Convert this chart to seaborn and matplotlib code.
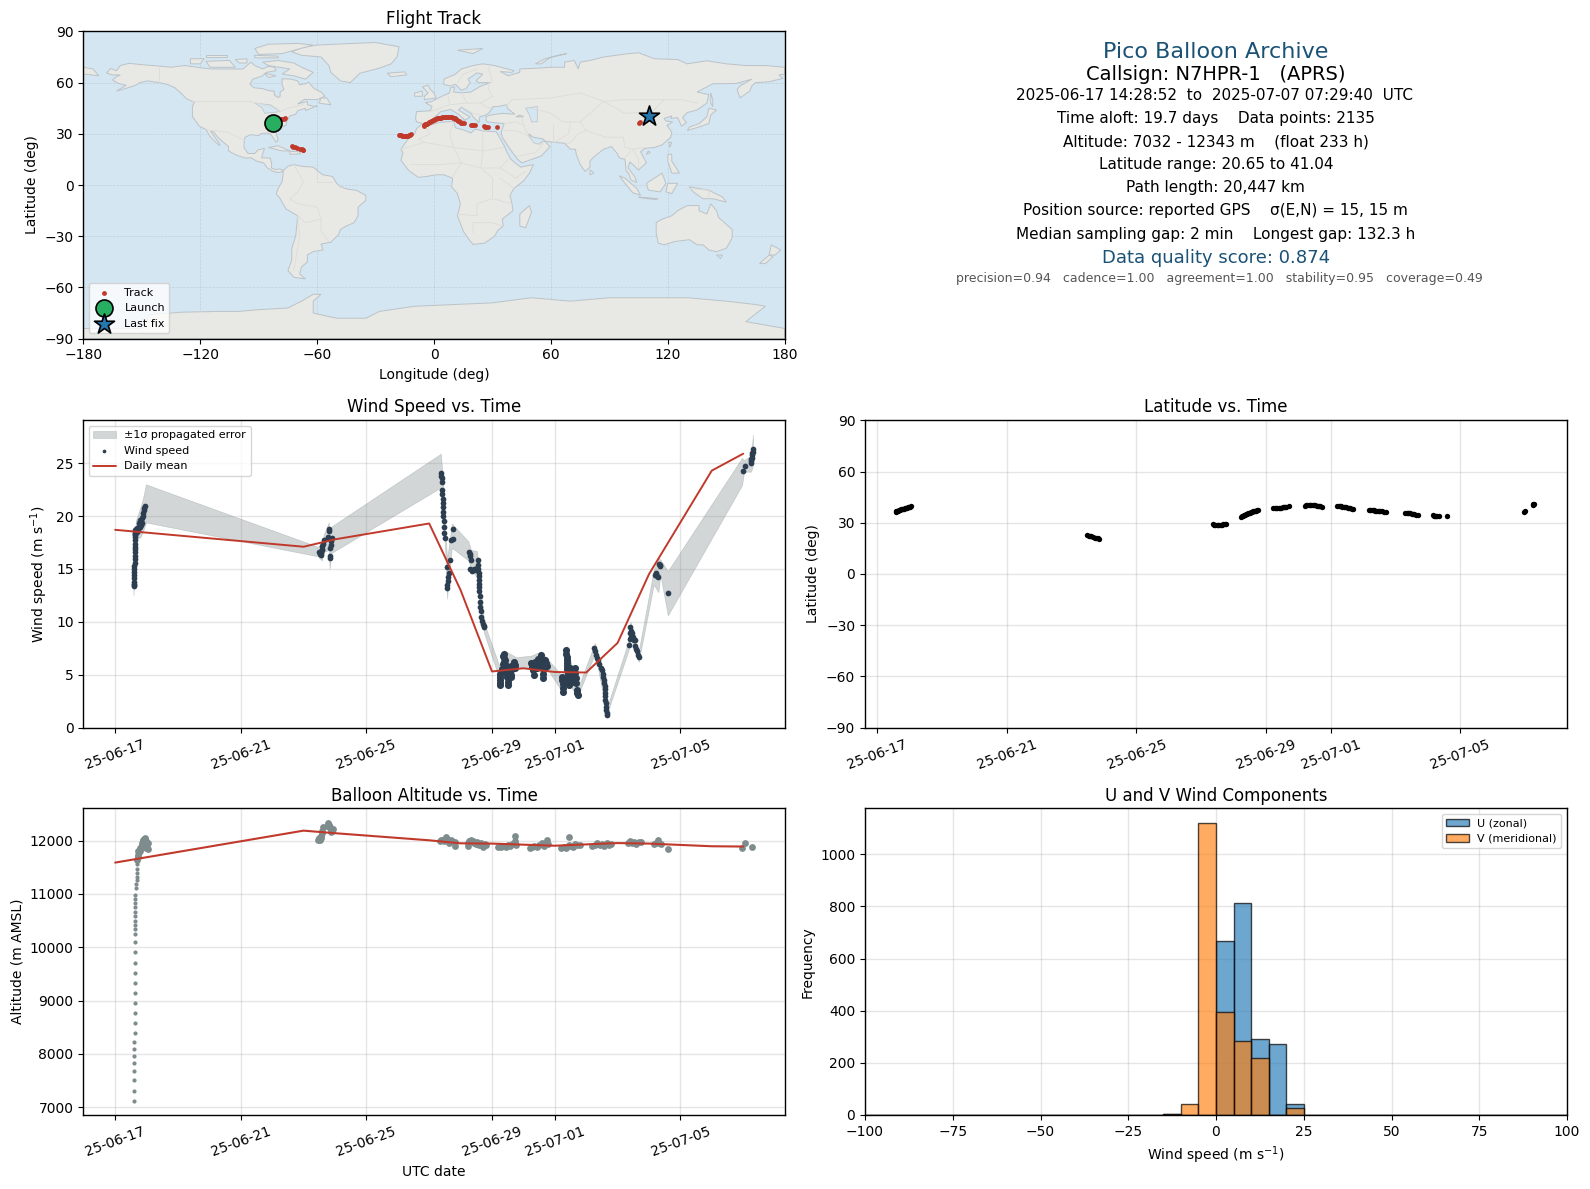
import matplotlib
matplotlib.use('Agg')
import matplotlib.pyplot as plt
import matplotlib.dates as mdates
from matplotlib.colors import to_rgba
import pandas as pd
import seaborn as sns

# days since 2025-06-17 00:00 UTC
wind_t_a = [0.59, 0.59, 0.60, 0.60, 0.60, 0.60, 0.61, 0.61, 0.61, 0.62, 0.62, 0.62, 0.62, 0.63, 0.63, 0.63, 0.63, 0.63, 0.63, 0.64, 0.64, 0.64,
            0.64, 0.65, 0.65, 0.67, 0.69, 0.71, 0.73, 0.75, 0.77, 0.79, 0.80, 0.82, 0.83, 0.85, 0.85, 0.87, 0.89, 0.91, 0.93, 0.95]
wind_v_a = [13.4, 13.6, 13.5, 13.8, 14.1, 14.4, 14.7, 15.0, 15.3, 15.6, 15.9, 16.2, 16.6, 16.9, 17.1, 17.4, 17.7, 18.0, 18.2, 18.4, 18.6, 18.3,
            18.7, 18.5, 18.8, 18.7, 18.5, 18.9, 18.7, 19.0, 19.3, 19.0, 19.6, 19.5, 19.2, 19.8, 19.3, 20.0, 20.3, 20.6, 20.8, 21.0]
wind_t_b = [6.50, 6.52, 6.54, 6.56, 6.58, 6.60, 6.60, 6.62, 6.64, 6.80, 6.78, 6.90, 6.88, 6.85, 6.84, 6.83, 6.82, 6.86]
wind_v_b = [16.6, 16.4, 16.3, 16.5, 16.9, 16.8, 17.2, 17.4, 17.7, 18.8, 18.05, 17.9, 17.6, 17.0, 16.0, 16.2, 18.6, 17.3]
wind_t_c = [10.38, 10.39, 10.40, 10.41, 10.42, 10.42, 10.43, 10.43, 10.44, 10.44, 10.45, 10.46, 10.47, 10.48, 10.50, 10.57, 10.62, 10.60, 10.59,
            10.58, 10.57, 10.67, 10.70, 10.75, 10.75, 11.27, 11.29, 11.30, 11.33, 11.30, 11.36, 11.42, 11.48, 11.52, 11.56, 11.55, 11.57, 11.58,
            11.59, 11.59, 11.60, 11.60, 11.60, 11.61, 11.62, 11.63, 11.65, 11.66, 11.68, 11.70, 11.73, 11.75]
wind_v_c = [24.05, 23.8, 23.6, 23.2, 22.5, 22.1, 21.6, 21.2, 20.9, 20.4, 20.0, 19.5, 19.0, 18.4, 17.9, 15.2, 14.6, 14.2, 13.9, 13.5, 13.2, 15.8, 17.7,
            17.8, 18.75, 16.6, 16.4, 16.2, 15.8, 15.0, 14.8, 15.0, 14.9, 15.1, 15.8, 15.4, 15.0, 14.6, 14.3, 14.0, 13.6, 13.3, 12.9, 12.4, 11.9, 11.4,
            11.0, 10.5, 10.1, 9.8, 9.6, 9.5]
wind_t_d = [12.25, 12.25, 12.26, 12.26, 12.27, 12.32, 12.34, 12.36, 12.37, 12.38, 12.38, 12.39, 12.39, 12.40, 12.40, 12.41, 12.44, 12.47, 12.50, 12.50, 12.51, 12.51, 12.52,
            12.52, 12.56, 12.60, 12.60, 12.61, 12.62, 12.66, 12.71, 12.72, 12.73, 13.25, 13.27, 13.30, 13.33, 13.35, 13.38, 13.42, 13.46, 13.47, 13.48, 13.52, 13.55, 13.56,
            13.56, 13.57, 13.58, 13.62, 13.62, 13.63, 13.63, 13.66, 13.70, 13.72, 13.74]
wind_v_d = [5.1, 4.8, 4.5, 4.2, 4.0, 5.5, 6.0, 6.8, 7.0, 6.6, 6.2, 5.9, 5.6, 6.4, 5.4, 6.0, 5.2, 4.8, 5.7, 5.4, 5.0, 4.7, 4.3, 4.0, 5.2, 5.8, 5.4, 5.0, 4.8, 5.6, 6.2, 5.9, 5.6,
            6.1, 5.7, 5.4, 5.0, 5.9, 6.2, 5.6, 6.5, 6.1, 5.7, 6.0, 6.9, 6.5, 6.1, 5.7, 5.6, 6.1, 5.6, 5.1, 4.7, 5.5, 6.4, 6.1, 5.8]
wind_t_e = [14.23, 14.24, 14.25, 14.26, 14.27, 14.33, 14.36, 14.37, 14.38, 14.39, 14.39, 14.40, 14.40, 14.41, 14.41, 14.42, 14.43, 14.44, 14.47, 14.50, 14.52, 14.53,
            14.54, 14.59, 14.63, 14.65, 14.66, 14.68, 14.71, 14.72, 14.73]
wind_v_e = [4.8, 4.5, 4.1, 3.7, 3.4, 4.6, 7.3, 7.0, 6.7, 6.4, 6.1, 5.8, 5.5, 5.2, 4.9, 4.6, 4.3, 4.0, 5.0, 5.6, 5.2, 4.8, 4.3, 5.3, 5.6, 5.2, 4.7, 4.2, 3.55, 3.3, 3.1]
wind_t_f = [15.26, 15.29, 15.32, 15.36, 15.39, 15.42, 15.46, 15.49, 15.52, 15.55, 15.57, 15.58, 15.60, 15.60, 15.61, 15.61, 15.61, 15.62, 15.63, 15.64, 15.65, 15.67]
wind_v_f = [7.5, 7.2, 6.9, 6.6, 6.4, 6.0, 5.6, 5.4, 5.1, 4.8, 4.5, 4.2, 3.9, 3.6, 3.3, 3.0, 2.6, 2.3, 1.9, 1.7, 1.4, 1.2]
wind_t_g = [16.35, 16.38, 16.40, 16.41, 16.42, 16.44, 16.46, 16.48, 16.50, 16.53, 16.56, 16.57, 16.59, 16.61, 16.64, 16.67, 17.20, 17.22, 17.25, 17.28,
            17.31, 17.34, 17.36, 17.60]
wind_v_g = [7.8, 8.4, 8.9, 9.5, 9.1, 8.6, 8.9, 8.4, 8.6, 8.3, 8.3, 7.7, 7.4, 7.2, 6.9, 6.7, 14.4, 14.6, 14.3, 14.2, 15.5, 15.4, 15.3, 12.7]
wind_t_h = [19.98, 20.05, 20.25, 20.25, 20.26, 20.27, 20.28, 20.29, 20.30, 20.31]
wind_v_h = [24.3, 24.7, 25.0, 25.2, 25.4, 25.5, 25.8, 26.0, 26.1, 26.35]

band_t = [0.58, 0.62, 0.66, 0.80, 0.88, 0.98, 6.45, 6.58, 6.65, 6.80, 6.83, 6.88, 10.37, 10.45, 10.50, 10.57, 10.62, 10.72, 11.25, 11.33, 11.52,
          11.60, 11.75, 12.26, 12.38, 12.77, 13.25, 13.56, 13.77, 14.25, 14.39, 14.72, 15.28, 15.60, 15.63, 16.35, 16.41, 16.67, 17.15, 17.30,
          17.36, 17.60, 19.96, 20.03, 20.25, 20.31]
band_lo = [12.5, 14.5, 17.8, 18.0, 18.5, 19.4, 16.2, 15.8, 16.6, 16.8, 15.0, 16.5, 22.7, 18.5, 17.5, 12.2, 14.0, 17.0, 15.8, 15.0, 14.2, 11.5, 8.9,
           4.4, 5.4, 5.7, 5.6, 5.5, 5.5, 3.3, 4.4, 2.9, 7.0, 2.2, 1.0, 7.3, 8.5, 6.2, 13.5, 12.8, 14.5, 10.6, 22.9, 24.2, 24.2, 24.8]
band_hi = [14.5, 17.0, 19.6, 20.8, 21.6, 23.0, 17.1, 17.3, 18.3, 19.4, 18.0, 19.0, 25.9, 23.0, 19.0, 16.0, 17.0, 19.3, 17.6, 16.8, 16.7, 14.5, 9.9,
           5.6, 7.3, 6.65, 6.8, 7.2, 6.5, 4.8, 7.7, 3.6, 8.0, 4.3, 1.6, 8.2, 10.0, 7.2, 14.9, 16.0, 15.9, 14.8, 25.5, 25.3, 25.7, 27.7]

mean_t = [0, 6, 7, 10, 11, 12, 13, 14, 15, 16, 17, 19, 20]
wind_mean = [18.7, 17.1, 17.8, 19.3, 13.0, 5.3, 5.6, 5.25, 5.2, 8.0, 14.5, 24.3, 25.9]
alt_mean = [11589, 12188, 12140, 12007, 11950, 11945, 11925, 11905, 11930, 11955, 11945, 11895, 11890]

alt_t_a = [0.60, 0.60, 0.60, 0.60, 0.60, 0.60, 0.60, 0.60, 0.63, 0.63, 0.63, 0.63, 0.63, 0.63, 0.63, 0.63, 0.63, 0.63, 0.63, 0.63, 0.63, 0.63,
           0.63, 0.63, 0.63, 0.63, 0.63, 0.63, 0.65, 0.66, 0.68, 0.68, 0.68, 0.68, 0.68]
alt_a = [7113, 7300, 7506, 7675, 7831, 7956, 8093, 8224, 8393, 8580, 8767, 8954, 9142, 9329, 9516, 9704, 9910, 10097, 10247, 10341, 10422, 10497,
         10579, 10660, 10747, 10828, 10903, 10984, 11109, 11184, 11253, 11315, 11390, 11471, 11559]
alt_t_a2 = [0.70, 0.72, 0.74, 0.76, 0.78, 0.80, 0.82, 0.84, 0.86, 0.88, 0.90, 0.92, 0.94, 0.96, 0.98, 1.00, 1.02, 1.04, 0.74, 0.80, 0.86, 0.92, 0.98, 1.03]
alt_a2 = [11640, 11690, 11730, 11780, 11810, 11840, 11880, 11910, 11950, 11985, 12010, 12040, 12050, 12030, 12000, 11960, 11910, 11850, 11810, 11870, 11900, 11920, 11860, 11960]
alt_t_b = [6.46, 6.49, 6.53, 6.55, 6.57, 6.58, 6.60, 6.62, 6.76, 6.78, 6.80, 6.83, 6.85, 6.88, 6.90, 6.94, 6.86]
alt_b = [12013, 12050, 12013, 12050, 12090, 12137, 12190, 12250, 12270, 12325, 12290, 12262, 12230, 12212, 12190, 12212, 12165]
alt_t_c = [10.33, 10.38, 10.43, 10.48, 10.53, 10.58, 10.62, 10.68, 10.73, 10.81, 10.81, 11.23, 11.23, 11.28, 11.33, 11.38, 11.43, 11.48, 11.53,
           11.60, 11.66, 11.72, 11.78, 11.82, 12.20, 12.28, 12.36, 12.44, 12.50, 12.58, 12.65, 12.72, 12.78, 12.73, 12.74,
           13.20, 13.27, 13.35, 13.42, 13.50, 13.58, 13.65, 13.72, 13.78, 13.75, 14.20, 14.28, 14.36, 14.44, 14.50, 14.58, 14.65, 14.72, 14.80, 14.45]
alt_c = [12000, 12010, 12020, 11990, 12070, 12040, 11960, 12010, 12000, 11970, 11900, 11900, 11960, 12000, 12010, 11990, 11960, 11930, 11970,
         11910, 11950, 11890, 11940, 11920, 11880, 11890, 11900, 11880, 11920, 11900, 11930, 11950, 11920, 12000, 12080,
         11860, 11880, 11900, 11890, 11920, 11950, 11900, 11960, 11930, 12010, 11860, 11890, 11870, 11920, 11900, 11880, 11930, 11910, 11920, 12060]
alt_t_d = [15.20, 15.28, 15.36, 15.44, 15.50, 15.58, 15.66, 15.74, 15.80, 16.33, 16.40, 16.47, 16.53, 16.60, 16.68, 16.75, 17.17, 17.23, 17.28, 17.33, 17.38, 17.60, 19.97, 20.05, 20.28]
alt_d = [11900, 11920, 11950, 11920, 11940, 11900, 11950, 11920, 11940, 11960, 11990, 11950, 11980, 11940, 11970, 11980, 11940, 11960, 12010, 11950, 11930, 11835, 11866, 11950, 11872]

lat_t = [0.56, 0.59, 0.62, 0.65, 0.68, 0.71, 0.74, 0.77, 0.80, 0.83, 0.86, 0.89, 0.92, 0.95, 0.98, 1.01, 1.04, 6.48, 6.52, 6.56, 6.61, 6.66, 6.71, 6.76, 6.80, 6.84,
         10.36, 10.40, 10.44, 10.48, 10.52, 10.56, 10.60, 10.64, 10.68, 10.72, 10.76,
         11.23, 11.26, 11.29, 11.32, 11.35, 11.38, 11.41, 11.44, 11.47, 11.50, 11.53, 11.56, 11.59, 11.62, 11.65, 11.68, 11.71, 11.76,
         12.23, 12.27, 12.31, 12.35, 12.39, 12.43, 12.47, 12.51, 12.55, 12.59, 12.63, 12.70,
         13.20, 13.24, 13.28, 13.32, 13.36, 13.40, 13.44, 13.48, 13.52, 13.56, 13.60, 13.64, 13.68, 13.74,
         14.20, 14.24, 14.28, 14.32, 14.36, 14.40, 14.44, 14.48, 14.52, 14.56, 14.60, 14.65, 14.70,
         15.17, 15.21, 15.25, 15.29, 15.33, 15.37, 15.41, 15.45, 15.49, 15.53, 15.57, 15.63, 15.70,
         16.30, 16.34, 16.38, 16.42, 16.46, 16.50, 16.54, 16.58, 16.62, 16.68, 17.15, 17.18, 17.22, 17.25, 17.29, 17.35, 17.58, 19.96, 20.00, 20.23, 20.26, 20.28]
lat_v = [36.4, 36.6, 36.8, 37.0, 37.3, 37.5, 37.8, 38.0, 38.2, 38.3, 38.5, 38.6, 38.8, 39.0, 39.2, 39.3, 39.5, 22.7, 22.4, 22.2, 22.0, 21.7, 21.3, 20.9, 20.8, 20.7,
         29.0, 28.9, 28.8, 28.7, 28.7, 28.7, 28.8, 28.9, 29.0, 29.2, 29.4,
         33.6, 33.8, 34.0, 34.3, 34.6, 34.9, 35.1, 35.4, 35.6, 35.9, 36.1, 36.4, 36.6, 36.8, 37.0, 37.1, 37.3, 37.7,
         38.6, 38.6, 38.7, 38.8, 38.8, 38.9, 38.9, 39.0, 39.2, 39.3, 39.4, 39.5,
         40.0, 40.1, 40.2, 40.2, 40.2, 40.2, 40.1, 40.1, 40.1, 40.0, 39.8, 39.7, 39.6, 39.4,
         39.6, 39.6, 39.5, 39.5, 39.4, 39.2, 39.1, 39.0, 38.8, 38.6, 38.4, 38.2, 38.1,
         37.3, 37.3, 37.3, 37.3, 37.2, 37.1, 37.0, 36.9, 36.8, 36.7, 36.6, 36.5, 36.4,
         35.9, 35.8, 35.7, 35.5, 35.4, 35.2, 35.0, 34.9, 34.8, 34.6, 34.3, 34.2, 34.1, 34.1, 34.0, 34.0, 34.1, 36.4, 36.9, 40.5, 41.0, 40.8]

track_lon = [-78.5, -77.9, -77.2, -76.7, -73.0, -72.3, -71.5, -70.5, -69.0, -68.0, -67.5, -67.0, -18.0, -17.5, -17.0, -16.5, -16.0, -15.5, -15.0, -14.5, -14.0, -13.5, -13.0, -12.5, -12.0,
             -5.4, -5.0, -4.5, -4.0, -3.5, -3.0, -2.5, -2.0, -1.5, -1.0, -0.5, 0.0, 0.5, 1.0, 1.5, 2.0, 2.5, 3.0, 3.5, 4.2, 5.0, 5.5, 6.0, 6.5, 7.0, 7.8, 8.5, 9.0, 9.5, 10.0, 10.5, 11.0,
             11.5, 12.0, 12.5, 13.0, 13.5, 14.0, 14.5, 15.3, 19.0, 19.5, 20.2, 21.0, 25.5, 25.9, 26.7, 27.5, 32.2, 105.2, 105.6]
track_lat = [38.5, 38.7, 38.9, 39.1, 22.7, 22.4, 22.0, 21.5, 21.2, 21.0, 20.6, 20.3, 29.2, 29.15, 29.1, 29.0, 28.9, 28.85, 28.8, 28.8, 28.8, 29.0, 29.2, 29.5, 29.8,
             34.5, 35.0, 35.5, 35.7, 36.0, 36.4, 36.8, 37.1, 37.5, 37.7, 38.0, 38.3, 38.6, 38.8, 39.0, 39.1, 39.3, 39.4, 39.5, 39.8, 40.0, 40.0, 40.0, 39.9, 39.8, 39.8, 39.7, 39.6, 39.5, 39.3, 39.2, 38.9,
             38.5, 38.1, 37.8, 37.3, 36.8, 36.6, 36.5, 36.1, 35.2, 35.1, 35.0, 34.9, 34.3, 34.2, 34.0, 33.8, 33.8, 36.5, 36.9]
launch_lon, launch_lat = [-82.8], [36.1]
last_lon, last_lat = [110.4], [40.6]

hist_edges = [-100 + 5 * i for i in range(41)]
u_centers = [-12.5, 2.5, 7.5, 12.5, 17.5, 22.5]
u_counts = [3, 669, 813, 292, 273, 43]
v_centers = [-12.5, -7.5, -2.5, 2.5, 7.5, 12.5, 22.5]
v_counts = [3, 43, 1119, 395, 283, 218, 28]

tick_dates = ['2025-06-17', '2025-06-21', '2025-06-25', '2025-06-29', '2025-07-01', '2025-07-05']

# rough coastlines (lon, lat)
north_america = [(-168,65.6),(-166,68.3),(-163,67),(-161,70),(-156.5,71.3),(-150,70.5),(-141,69.7),(-135,69),(-128,70),(-125,69.5),(-115,68),(-108,68),(-103,68),(-98,68),
                 (-96,70),(-94,72),(-92,70),(-88,68),(-85,69.5),(-82,69),(-81,67),(-86,66),(-88,64),(-93,62),(-94.5,59),(-92.5,57),(-88,56.5),(-85,55.3),(-82,55),(-82,52.8),
                 (-80,51.2),(-79,52),(-79,54.5),(-77,56),(-78,58.8),(-78,62.3),(-73,62),(-70,61),(-69,58.7),(-65.5,59.5),(-64.5,60.3),(-61.5,56.5),(-58,54.5),(-56,52),(-60,50),
                 (-66.5,50.2),(-70,47.5),(-65,49),(-65,47),(-61,46),(-60,46.5),(-64,44.5),(-66,43.7),(-66,45),(-70,43.5),(-71,41.5),(-74,40.5),(-75.5,37.5),(-76,35),(-78,34),
                 (-81,32),(-81,30),(-80,26.5),(-81,25),(-82.5,27.5),(-84,30),(-86,30.5),(-89,30),(-90,29),(-94,29.5),(-97,28),(-97.5,25),(-97.5,22),(-95.5,18.5),(-92,18.5),
                 (-90.5,20.5),(-87,21.5),(-88,18),(-88.5,16),(-84,15.8),(-83.3,12),(-83.5,10),(-81,9),(-79.5,9.5),(-77.3,8.6),(-78.5,7.5),(-80.5,7.3),(-83,8.3),(-85.5,10),
                 (-87.5,13),(-91,14),(-94,16),(-97,15.8),(-102,17.8),(-105.5,20),(-105.5,22.5),(-108,25),(-111,28),(-113,31),(-114.7,31.5),(-112.5,28),(-110,24),(-110,23),
                 (-112,25),(-115,28.5),(-117,32.5),(-120.5,34.5),(-122,37),(-124,40),(-124,46),(-123,48.5),(-127,50.5),(-130,54),(-133,57),(-137,59),(-141,60),(-147,61),
                 (-151,60),(-153,58.5),(-157,57),(-163,55),(-158,58.5),(-162,59.5),(-165,61.5),(-163,63.5),(-161,64.5),(-165,64.5)]
south_america = [(-77.3,8.6),(-75,11),(-72,12),(-68,11),(-62,10.5),(-60,8.5),(-57,6),(-52,5),(-50,1),(-48,-1),(-44,-2.5),(-40,-3),(-35,-6),(-35,-9),(-39,-13),(-39,-18),(-41,-22),
                 (-45,-24),(-48,-26),(-49,-29),(-53,-33.5),(-58,-34.5),(-57,-38),(-62,-39),(-65,-41),(-65,-45),(-68,-48),(-69,-52),(-66,-55),(-72,-54),(-75,-50),(-73,-44),(-73,-37),
                 (-71,-30),(-70,-18),(-76,-14),(-79,-8),(-81,-5),(-80,-2),(-78,2),(-77.5,6)]
africa = [(-6,35.8),(-2,35),(3,36.8),(10,37.2),(11,33.5),(15,32.3),(19,30.5),(21,32.8),(25,31.7),(32,31.2),(32.5,30),(34,27),(36,23),(37.5,19),(39.5,15),(43,11.7),(44.5,10.5),(51,12),
          (49,7),(46,2.5),(41,-2),(39,-6),(40,-11),(40.5,-15),(35,-20),(35.5,-24),(32.8,-26.5),(31,-30),(26,-34),(20,-34.8),(18,-32),(15,-27),(12,-18),(13.5,-11),(12,-5),(9,-1),
          (9.5,4),(5,6),(1,6),(-4,5),(-8,4.5),(-13,8.5),(-17,14.5),(-16,19),(-17,21),(-13,27.5),(-10,30),(-9,33)]
eurasia = [(-9,37),(-9.5,39),(-9,43),(-2,43.5),(-1,46),(-4.5,48.3),(-1.5,48.8),(1.5,50.5),(4,52),(8,54),(8.5,57),(10.5,57.5),(10,54.5),(14,54),(19,54.5),(21,56),(24,58),(29,60),(23,60),
           (21.5,61),(25,65),(22,65.7),(17.5,62),(18.5,60),(16.5,56.5),(14,55.5),(11,59),(8,58),(5,59),(5,62),(11,65),(14,68),(20,70),(25,71),(31,70),(41,67),(40,66),(34,66.5),(38,64),
           (44,66),(44,68),(54,68.5),(60,69),(67,69),(67,72),(72,73),(74,68),(75,72),(80,73),(87,75),(100,77),(105,77.5),(113,74),(125,73.5),(130,71),(140,72.8),(150,71),(160,70),(170,70),
           (180,69),(180,65),(177,64.5),(179,62.5),(172,60.5),(165,60),(163,58),(162,55),(157,51),(155.5,56),(157,58),(163,62),(155,59.5),(143,59.3),(135,54.5),(141,53),(140,48),(135,44),
           (130,42.5),(127.5,39.5),(129.5,36.5),(127,34.5),(126,37),(125,39.5),(121.5,39),(122,40.5),(118,39),(119,37.5),(122.5,37),(119.5,35),(122,31),(121.5,28),(117,23.5),(113,22),
           (108,21.5),(106,19.5),(109,13),(106,10),(105,8.7),(103,11),(100.5,13.5),(99.5,10),(103,5),(104,1.5),(101,3),(100,6.5),(98.5,8.5),(98,15),(95,16),(94,18.5),(91,22.5),(87,21),
           (82,16.5),(80,14),(80,10.5),(77.5,8),(75,12),(73,18),(72.5,21),(70,21),(67,24.5),(62,25),(57,25.7),(56,27),(51,28),(48.5,30),(50,26.5),(51.5,24.5),(54,24),(56.5,26),(59.5,22.5),
           (55,17),(45,13),(43,15),(39,21),(35,28),(34.5,31),(36,36),(31,36.5),(27,37),(26.5,40),(29,41),(35,42),(41.5,41.5),(38,44.5),(37,47),(33,46),(30.5,46),(28,42),(26,40.8),(23.5,40),
           (23,36.5),(20,40),(19,42),(14,45.5),(12.5,44),(16,41.5),(18.5,40),(16,38),(12.5,41.5),(8.5,44.3),(3.5,43),(0,39.5),(-2,37),(-5.5,36)]
australia = [(114,-22),(117,-20),(122,-18),(125,-15),(130,-12),(136,-12),(136,-15),(140,-17),(142,-11),(145,-15),(146,-19),(150,-23),(153,-26),(153,-31),(150,-37),(145,-39),(141,-38),(138,-35),(135,-35),
             (131,-32),(124,-33),(118,-35),(115,-34),(114,-28)]
antarctica = [(-180,-84),(-150,-84),(-146,-76),(-130,-74.5),(-110,-74),(-100,-74),(-90,-73),(-75,-72),(-68,-68),(-62,-64),(-58,-64),(-62,-68),(-62,-75),
              (-50,-78),(-35,-78),(-28,-74),(-10,-71),(10,-70),(30,-69),(50,-66),(70,-68),(90,-66),(110,-66),(130,-66),(150,-68),(165,-70),(170,-71),
              (160,-80),(180,-84),(180,-90),(-180,-90)]
islands = [
    [(-73,78),(-68,80.5),(-60,82),(-45,82.8),(-30,83.5),(-18,81),(-19,75),(-22,71),(-28,68.5),(-38,65.5),(-43,60),(-48,61),(-53,66),(-54,70),(-58,75),(-68,76)],
    [(-80,73),(-72,71.5),(-68,69),(-62,66),(-66,62),(-72,64),(-78,65),(-74,68),(-85,70),(-88,72)],
    [(-117,72.5),(-105,73),(-102,69),(-115,69)],
    [(-92,80),(-85,82.5),(-70,83),(-62,82),(-78,77),(-90,76.5)],
    [(-125,74),(-118,74),(-120,71),(-125,71)],
    [(-92,76),(-80,75.5),(-80,74.5),(-92,74.5)],
    [(-102,73.5),(-96,74),(-96,71.5),(-100,71.5)],
    [(-117,76),(-106,76),(-106,74.8),(-117,74.8)],
    [(-87,65.5),(-81,64),(-85,63)],
    [(-59,48),(-53,47),(-55,51),(-58,51)],
    [(-85,22),(-80,23),(-74,20),(-78,20)],
    [(-74,19.8),(-69,19.5),(-68.5,18.3),(-74,18)],
    [(-5,50),(1,51),(0,54),(-2,56),(-3,58.5),(-6,57.5),(-3,54),(-5,52)],
    [(-10,52),(-6,52),(-6,55),(-10,54)],
    [(-24,65.5),(-15,66.3),(-14,64.5),(-22,63.5)],
    [(49,-12),(50,-16),(47,-25),(44,-24),(44,-17)],
    [(173,-35),(178,-38),(175,-41),(172,-41)],
    [(172,-41),(174,-42),(170,-46),(167,-46)],
    [(145,-41),(148,-41),(147,-43)],
    [(130,32),(136,34),(141,36),(142,41),(145,44),(141,45),(140,40),(136,36),(131,34)],
    [(95,5.5),(98,4),(104,-2),(106,-6),(102,-4.5),(98,1)],
    [(105,-7),(115,-8),(114,-8.5),(106,-7.5)],
    [(109,1),(117,7),(119,1),(116,-4),(110,-3)],
    [(120,1),(125,1),(122,-5),(119,-4)],
    [(131,-1),(141,-3),(148,-7),(150,-10),(143,-8),(138,-8),(133,-4)],
    [(120,18),(122,18),(122,14),(126,7),(122,7),(120,14)],
    [(80,9),(82,7),(80,6)],
    [(142,54),(143,50),(143,46),(142,48)],
    [(52,71),(57,74),(68,77),(60,75),(55,71)],
    [(12,79),(25,80),(20,77)],
    [(-180,65),(-172,64),(-175,68),(-180,69)],
    [(8.5,41),(10,39),(8,39)],
    [(12.5,38),(15.5,38),(15,36.7)],
    [(110,20),(111,19),(109,18)],
    [(120.5,25),(122,25),(121,22)],
    [(44,41),(46,40),(42,40)],
]
lakes = [[(47,45),(53,46),(53,37),(50,37),(49,41)], [(-92,48),(-84,47),(-80,44),(-79,43),(-87,42),(-88,45)]]
borders = [
    [(-124,49),(-95,49),(-84,46),(-79,43),(-75,45),(-67,47)], [(-141,70),(-141,60)], [(-117,32.5),(-106,31),(-97,26)],
    [(-70,-18),(-66,-22),(-58,-20),(-58,-27),(-54,-33)], [(-72,12),(-67,2),(-70,-4),(-74,-8),(-70,-11),(-60,-13),(-58,-20)], [(-70,-18),(-69,-30),(-72,-50)],
    [(-60,8),(-60,2),(-52,2)], [(-17,21),(-5,25),(10,22),(25,20),(36,22)], [(-5,35),(-2,30),(-8,27),(-5,25)], [(10,37),(8,30),(10,22),(14,13),(24,10),(34,10),(38,15)],
    [(25,32),(25,20),(24,10),(30,4),(30,-8),(22,-11),(22,-18),(12,-17)], [(9,4),(14,13),(3,12),(-12,12)], [(30,-8),(40,-11)], [(20,-28),(20,-22),(30,-22),(35,-24)],
    [(34,4),(41,-2)], [(34,10),(42,4),(47,8)],
    [(-2,43),(8,47),(7,53)], [(8,47),(17,48),(14,54)], [(17,48),(24,48),(30,52),(28,56),(28,60)], [(24,48),(28,45),(30,46)], [(14,46),(20,42),(24,41)],
    [(28,69),(30,60)], [(12,60),(15,65),(22,68)], [(37,46),(40,50),(60,51),(75,54),(87,49),(98,50),(118,50),(127,50),(135,48)],
    [(50,45),(60,42),(66,37),(75,37),(80,42),(87,49)], [(87,49),(98,42),(112,43),(118,50)], [(75,37),(78,32),(88,28),(97,28),(98,22),(102,21),(107,22)],
    [(61,36),(61,25)], [(70,37),(69,30),(62,25)], [(78,32),(74,30),(70,25),(68,24)], [(45,40),(46,35),(48,30)], [(36,36),(42,37),(46,35)], [(36,32),(42,32),(48,29),(52,24),(56,24),(52,19),(43,17)],
    [(98,16),(101,20)], [(102,21),(105,15),(105,10)], [(129,-2),(141,-3),(141,-9)],
]

sns.set_style('white', {'axes.edgecolor': 'black', 'xtick.bottom': True, 'ytick.left': True,
                        'text.color': 'black', 'axes.labelcolor': 'black', 'xtick.color': 'black', 'ytick.color': 'black'})
plt.rcParams['font.family'] = ['DejaVu Sans']
plt.rcParams['axes.linewidth'] = 1.0

W, H = 1590, 1189
RED, DARK, GREY = '#c0392b', '#2c3e50', '#7f8c8d'
BASE = mdates.date2num(pd.Timestamp('2025-06-17'))


def day(values):
    return [BASE + v for v in values]


def panel(x0, x1, y0, y1):
    return fig.add_axes([x0 / W, 1 - y1 / H, (x1 - x0) / W, (y1 - y0) / H])


def time_axis(ax, xlim):
    ax.set_xlim(BASE + xlim[0], BASE + xlim[1])
    ax.set_xticks([mdates.date2num(pd.Timestamp(d)) for d in tick_dates])
    ax.xaxis.set_major_formatter(mdates.DateFormatter('%y-%m-%d'))
    ax.tick_params(axis='x', labelrotation=20)
    ax.grid(True, color='#b0b0b0', alpha=0.32, linewidth=1)
    ax.set_axisbelow(True)


fig = plt.figure(figsize=(W / 100, H / 100), dpi=100)
LEFT, RIGHT = (83.3, 784.8), (865, 1567)
ROW1, ROW2, ROW3 = (31.4, 338.7), (420.3, 727.5), (808.3, 1115)

# track map
ax = panel(*LEFT, *ROW1)
ax.set_facecolor('#d4e6f1')
for poly in [north_america, south_america, africa, eurasia, australia, antarctica] + islands:
    xs, ys = zip(*poly)
    ax.fill(xs, ys, facecolor='#e8e8e4', edgecolor='#bcc3c8', linewidth=0.7, zorder=1)
for poly in lakes:
    xs, ys = zip(*poly)
    ax.fill(xs, ys, facecolor='#d4e6f1', edgecolor='#bcc3c8', linewidth=0.5, zorder=1.1)
for line in borders:
    xs, ys = zip(*line)
    ax.plot(xs, ys, color='#dcdcd8', linewidth=0.6, zorder=1.2)
ax.grid(True, color='#909090', alpha=0.25, linewidth=0.5, linestyle='--', zorder=1.5)
sns.scatterplot(x=track_lon, y=track_lat, ax=ax, color=RED, s=12, linewidth=0, label='Track', zorder=3)
sns.scatterplot(x=launch_lon, y=launch_lat, ax=ax, color='#27ae60', s=150, marker='o', edgecolor='black', linewidth=1.2, label='Launch', zorder=4)
sns.scatterplot(x=last_lon, y=last_lat, ax=ax, color='#2577b0', s=230, marker='*', edgecolor='black', linewidth=1.2, label='Last fix', zorder=4)
ax.set_xlim(-180, 180)
ax.set_ylim(-90, 90)
ax.set_xticks(range(-180, 181, 60))
ax.set_yticks(range(-90, 91, 30))
ax.set_xlabel('Longitude (deg)')
ax.set_ylabel('Latitude (deg)')
ax.set_title('Flight Track', fontsize=12, pad=5)
ax.legend(loc='lower left', fontsize=8)

# wind speed
ax = panel(*LEFT, *ROW2)
wind_t = wind_t_a + wind_t_b + wind_t_c + wind_t_f + wind_t_g + wind_t_h
wind_v = wind_v_a + wind_v_b + wind_v_c + wind_v_f + wind_v_g + wind_v_h
ax.fill_between(day(band_t), band_lo, band_hi, color=GREY, alpha=0.35, linewidth=0.5, label='±1σ propagated error')
sns.scatterplot(x=day(wind_t), y=wind_v, ax=ax, color=DARK, s=17, linewidth=0, zorder=3)
sns.scatterplot(x=day(wind_t_d + wind_t_e), y=wind_v_d + wind_v_e, ax=ax, color=DARK, s=26, linewidth=0, zorder=3)
ax.scatter([], [], color=DARK, s=7, linewidth=0, label='Wind speed')
sns.lineplot(x=day(mean_t), y=wind_mean, ax=ax, color=RED, linewidth=1.4, label='Daily mean', zorder=4)
time_axis(ax, (-1.0155, 21.3255))
ax.set_ylim(0, 29.06)
ax.set_yticks(range(0, 26, 5))
ax.set_ylabel('Wind speed (m s$^{-1}$)')
ax.set_title('Wind Speed vs. Time', fontsize=12)
ax.legend(loc='upper left', fontsize=8)

# latitude
ax = panel(*RIGHT, *ROW2)
sns.scatterplot(x=day(lat_t), y=lat_v, ax=ax, color='black', s=15, linewidth=0, zorder=3)
time_axis(ax, (-0.382, 21.295))
ax.set_ylim(-90, 90)
ax.set_yticks(range(-90, 91, 30))
ax.set_ylabel('Latitude (deg)')
ax.set_title('Latitude vs. Time', fontsize=12)

# altitude
ax = panel(*LEFT, *ROW3)
sns.scatterplot(x=day(alt_t_a), y=alt_a, ax=ax, color=GREY, s=9, linewidth=0, zorder=3)
sns.scatterplot(x=day(alt_t_a2 + alt_t_b + alt_t_c + alt_t_d), y=alt_a2 + alt_b + alt_c + alt_d, ax=ax, color=GREY, s=24, linewidth=0, zorder=3)
sns.lineplot(x=day(mean_t), y=alt_mean, ax=ax, color=RED, linewidth=1.5, zorder=4)
time_axis(ax, (-1.0155, 21.3255))
ax.set_ylim(6855, 12607)
ax.set_yticks(range(7000, 12001, 1000))
ax.set_xlabel('UTC date')
ax.set_ylabel('Altitude (m AMSL)')
ax.set_title('Balloon Altitude vs. Time', fontsize=12, pad=5)

# wind components
ax = panel(*RIGHT, *ROW3)
edge = to_rgba('black', 0.7)
sns.histplot(x=u_centers, weights=u_counts, bins=hist_edges, ax=ax, color='#1f77b4', alpha=0.65,
             edgecolor=edge, linewidth=1, label='U (zonal)')
sns.histplot(x=v_centers, weights=v_counts, bins=hist_edges, ax=ax, color='#ff7f0e', alpha=0.65,
             edgecolor=edge, linewidth=1, label='V (meridional)')
ax.set_xlim(-100, 100)
ax.set_ylim(0, 1176)
ax.set_yticks(range(0, 1001, 200))
ax.grid(True, color='#b0b0b0', alpha=0.32, linewidth=1)
ax.set_axisbelow(True)
ax.set_xlabel('Wind speed (m s$^{-1}$)')
ax.set_ylabel('Frequency')
ax.set_title('U and V Wind Components', fontsize=12, pad=5)
ax.legend(loc='upper right', fontsize=8)

# summary text
summary = [
    (52, 'Pico Balloon Archive', 16, '#1a5276', 1216),
    (74, 'Callsign: N7HPR-1   (APRS)', 14, 'black', 1216),
    (95.5, '2025-06-17 14:28:52  to  2025-07-07 07:29:40  UTC', 11, 'black', 1215),
    (118.5, 'Time aloft: 19.7 days    Data points: 2135', 11, 'black', 1216),
    (142, 'Altitude: 7032 - 12343 m    (float 233 h)', 11, 'black', 1216),
    (164.5, 'Latitude range: 20.65 to 41.04', 11, 'black', 1216),
    (187.5, 'Path length: 20,447 km', 11, 'black', 1215),
    (211, 'Position source: reported GPS    σ(E,N) = 15, 15 m', 11, 'black', 1215),
    (234, 'Median sampling gap: 2 min    Longest gap: 132.3 h', 11, 'black', 1216),
    (258, 'Data quality score: 0.874', 13, '#1a5276', 1216),
    (279, 'precision=0.94   cadence=1.00   agreement=1.00   stability=0.95   coverage=0.49', 9, '#555555', 1219),
]
for y, text, size, color, x in summary:
    fig.text(x / W, 1 - y / H, text, ha='center', va='center', fontsize=size, color=color)

fig.savefig('out.png', dpi=100)
